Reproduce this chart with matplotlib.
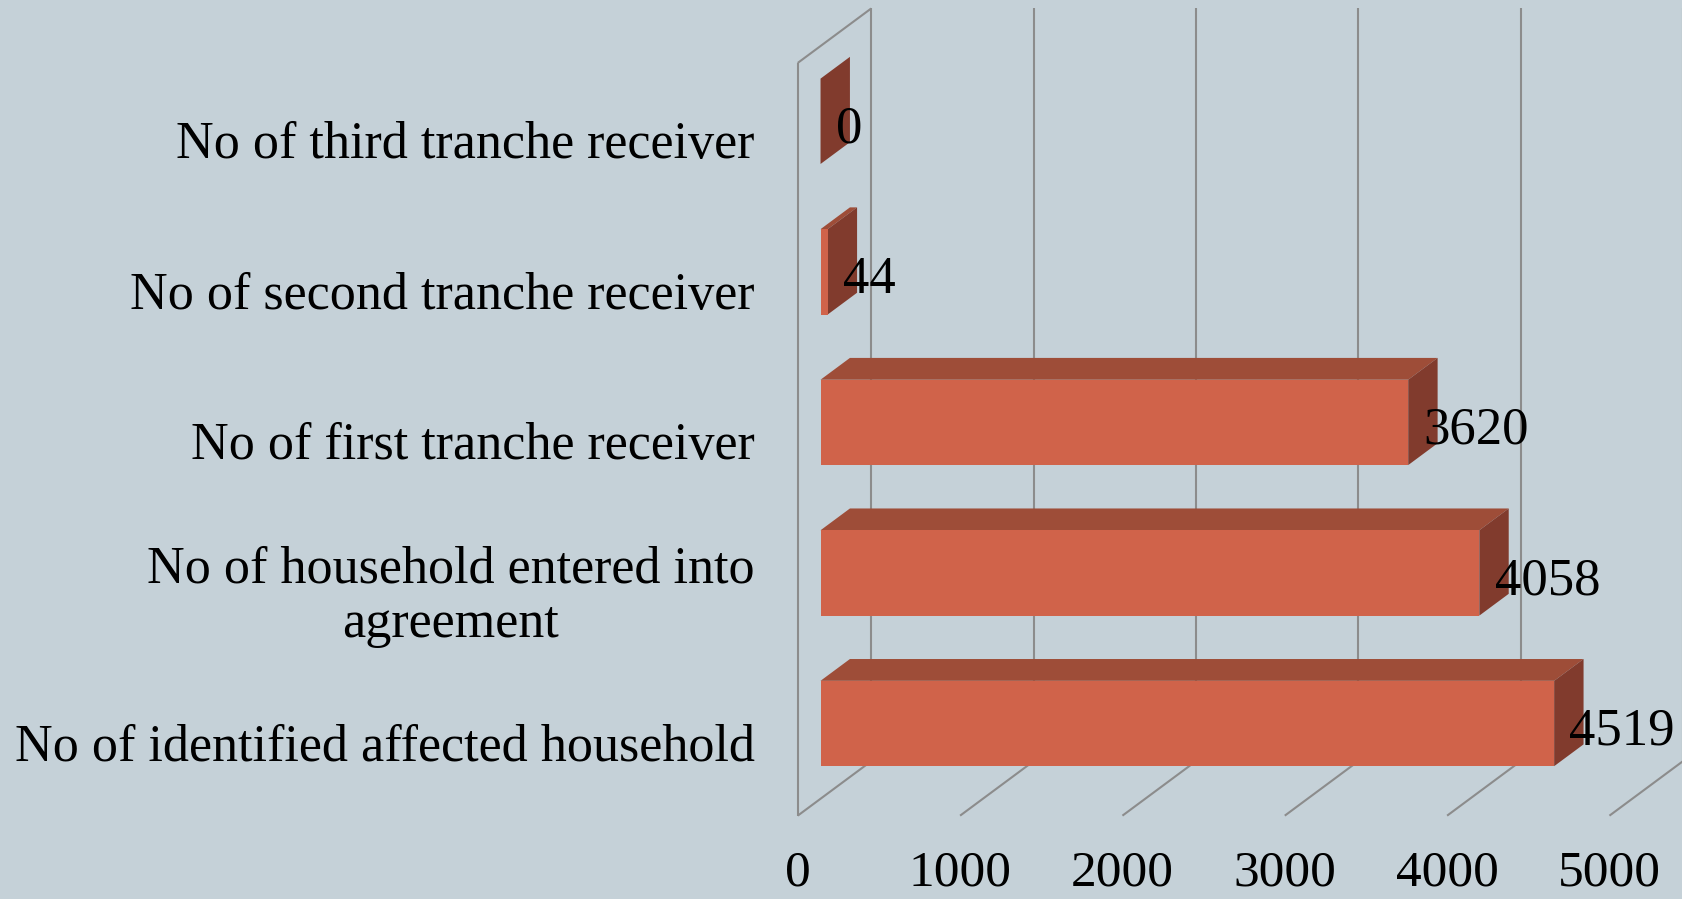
import matplotlib.pyplot as plt
from matplotlib.patches import Polygon

# bottom-to-top order of the horizontal bars
categories = ['No of identified affected household',
              'No of household entered into\nagreement',
              'No of first tranche receiver',
              'No of second tranche receiver',
              'No of third tranche receiver']
values = [4519, 4058, 3620, 44, 0]
x_ticks = [0, 1000, 2000, 3000, 4000, 5000]

BG = '#C5D1D8'
FRONT = '#D0634A'
TOP = '#9E4D38'
SIDE = '#813B2D'
GRID = '#8C8C8C'

# oblique depth of the box, in data units (x: value, y: category)
DX = 452.8
DY = 0.362
Z0, Z1 = 0.31, 0.71   # bars sit in the middle of the depth
HALF = 0.2835         # half bar thickness


def proj(v, c, z):
    return (v + z * DX, c + z * DY)


plt.rcParams['font.family'] = ['Liberation Serif', 'DejaVu Serif']

fig = plt.figure(figsize=(16.83, 8.99), dpi=100, facecolor=BG)
ax = fig.add_axes([0.474, 0.0927, 0.4823, 0.8373])
ymin, ymax = -0.5, len(categories) - 0.5
ax.set_xlim(x_ticks[0], x_ticks[-1])
ax.set_ylim(ymin, ymax)
ax.axis('off')


def line3d(p, q):
    (x1, y1), (x2, y2) = proj(*p), proj(*q)
    ax.plot([x1, x2], [y1, y2], color=GRID, lw=1.5, clip_on=False,
            zorder=1, solid_capstyle='butt')


# side wall at zero
line3d((0, ymin, 0), (0, ymax, 0))
line3d((0, ymax, 0), (0, ymax, 1))

# back wall gridlines + floor diagonals
for t in x_ticks:
    line3d((t, ymin, 1), (t, ymax, 1))
    line3d((t, ymin, 0), (t, ymin, 1))

# 3D bars: top, right side, then front face
for i, v in enumerate(values):
    lo, hi = i - HALF, i + HALF
    top = [proj(0, hi, Z0), proj(v, hi, Z0), proj(v, hi, Z1), proj(0, hi, Z1)]
    side = [proj(v, lo, Z0), proj(v, lo, Z1), proj(v, hi, Z1), proj(v, hi, Z0)]
    front = [proj(0, lo, Z0), proj(v, lo, Z0), proj(v, hi, Z0), proj(0, hi, Z0)]
    for pts, col, z in [(top, TOP, 2), (side, SIDE, 3), (front, FRONT, 4)]:
        ax.add_patch(Polygon(pts, closed=True, facecolor=col, lw=0,
                             clip_on=False, zorder=z))

    x, y = proj(v, i, Z0)
    ax.annotate(f'{v}', (x, y), xytext=(11, -6), textcoords='offset points',
                ha='left', va='center', fontsize=38, zorder=5)

# category labels
for i, lab in enumerate(categories):
    ax.annotate(lab, (0, i), xytext=(-31, -5), textcoords='offset points',
                ha='right', va='center', multialignment='center',
                linespacing=1.2, fontsize=37.5)

# value axis labels under the floor
for t in x_ticks:
    ax.annotate(str(t), (t, ymin), xytext=(0, -50), textcoords='offset points',
                ha='center', va='baseline', fontsize=37)

fig.savefig('out.png', dpi=100, facecolor=BG)
